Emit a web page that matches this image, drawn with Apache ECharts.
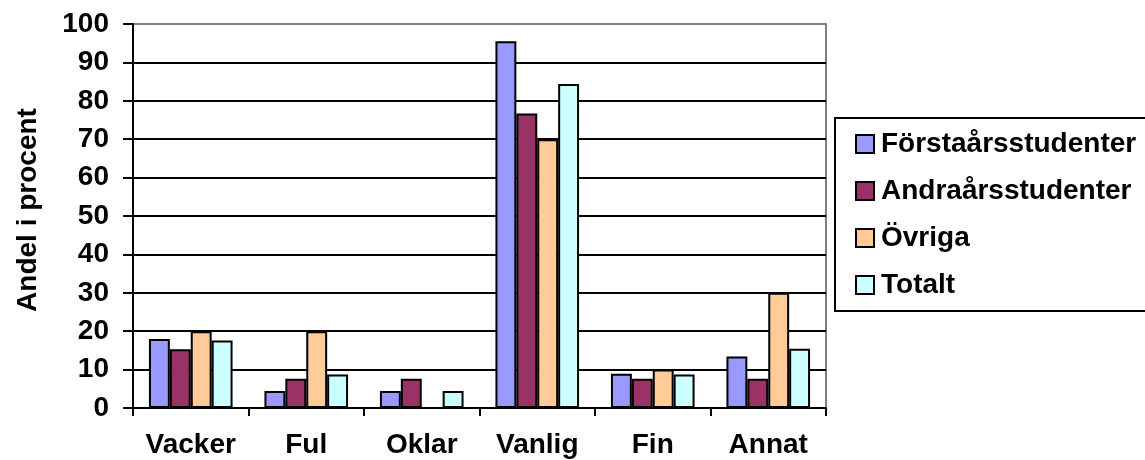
<!DOCTYPE html>
<html>
<head>
<meta charset="utf-8">
<script src="https://cdn.jsdelivr.net/npm/echarts@6/dist/echarts.min.js"></script>
<style>
html,body{margin:0;padding:0;background:#fff;overflow:hidden;}
#c{width:1145px;height:460px;}
</style>
</head>
<body>
<div id="c"></div>
<script>
const categories = ['Vacker', 'Ful', 'Oklar', 'Vanlig', 'Fin', 'Annat'];
const seriesNames = ['Förstaårsstudenter', 'Andraårsstudenter', 'Övriga', 'Totalt'];
const forsta = [18.0, 4.4, 4.4, 95.5, 8.9, 13.4];
const andra = [15.3, 7.6, 7.6, 76.7, 7.6, 7.6];
const ovriga = [20.0, 20.0, 0, 70.0, 10.0, 30.0];
const totalt = [17.6, 8.7, 4.4, 84.4, 8.7, 15.4];
const yTicks = [0, 10, 20, 30, 40, 50, 60, 70, 80, 90, 100];
const colors = ['#9999FF', '#993366', '#FFCC99', '#CCFFFF'];

const values = [forsta, andra, ovriga, totalt];
const font = '"Liberation Sans", Arial, sans-serif';
const chart = echarts.init(document.getElementById('c'));
const gridColors = yTicks.map((t, i) => i === yTicks.length - 1 ? '#808080' : '#000000');
chart.setOption({
  animation: false,
  backgroundColor: '#ffffff',
  textStyle: { fontFamily: font },
  grid: { left: 133, right: 319, top: 24, bottom: 52, show: true, borderColor: '#808080', borderWidth: 2, backgroundColor: 'transparent' },
  graphic: [{
    type: 'polyline',
    z: 0,
    shape: { points: [[1160, 118], [835, 118], [835, 311], [1160, 311]] },
    style: { fill: null, stroke: '#000', lineWidth: 2 }
  }],
  legend: {
    orient: 'vertical',
    left: 835,
    top: 118,
    padding: [12, 0, 14, 20],
    itemGap: 19,
    itemWidth: 18,
    itemHeight: 18,
    icon: 'rect',
    borderWidth: 0,
    textStyle: { fontFamily: font, fontWeight: 'bold', fontSize: 28, color: '#000', lineHeight: 28, padding: [0, 0, 0, 2] },
    data: seriesNames
  },
  xAxis: {
    type: 'category',
    data: categories,
    axisLine: { lineStyle: { color: '#000', width: 2 } },
    axisTick: { show: true, length: 8, lineStyle: { color: '#000', width: 2 }, alignWithLabel: false },
    axisLabel: { interval: 0, fontFamily: font, fontWeight: 'bold', fontSize: 28, color: '#000', margin: 23 }
  },
  yAxis: {
    type: 'value',
    min: 0,
    max: 100,
    interval: 10,
    name: 'Andel i procent',
    nameLocation: 'middle',
    nameRotate: 90,
    nameGap: 91,
    nameTextStyle: { fontFamily: font, fontWeight: 'bold', fontSize: 28, color: '#000', padding: [0, 0, 0, 12] },
    axisLine: { show: true, lineStyle: { color: '#000', width: 2 } },
    axisTick: { show: true, length: 10, lineStyle: { color: '#000', width: 2 } },
    axisLabel: { fontFamily: font, fontWeight: 'bold', fontSize: 28, color: '#000', margin: 24 },
    splitLine: { show: true, lineStyle: { color: gridColors, width: 2 } }
  },
  series: seriesNames.map((n, i) => ({
    name: n,
    type: 'bar',
    data: values[i],
    barGap: '0%',
    barCategoryGap: '27.6%',
    itemStyle: { color: colors[i], borderColor: '#000', borderWidth: 2 }
  }))
});
</script>
</body>
</html>
